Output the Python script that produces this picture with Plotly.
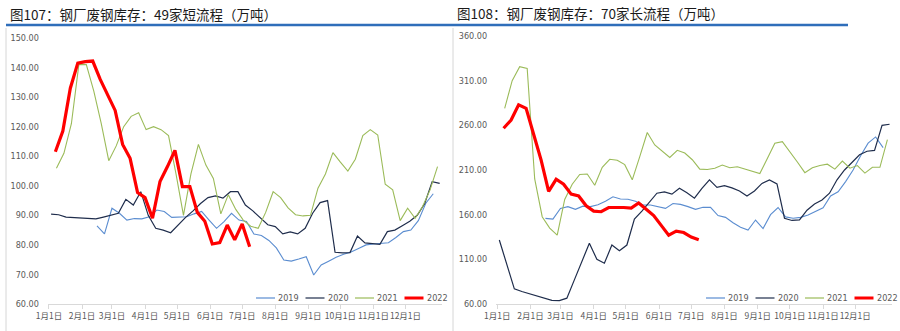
import pandas as pd
import plotly.graph_objects as go

W, H = 900, 331


def px(x):
    return x / W


def py(y):
    return 1 - y / H


# ---------------- data ----------------
month_ticks = [f"2022-{m:02d}-01" for m in range(1, 13)]
month_labels = [f"{m}月1日" for m in range(1, 13)]
years = ["2019", "2020", "2021", "2022"]

# weekly series (first-week date on a common 2022 calendar)
start_2019 = "2022-02-15"
start_2020 = "2022-01-03"
start_2021 = "2022-01-08"
start_2022 = "2022-01-07"

# 图107: 49家短流程 (万吨)
short_2019 = [86.4, 83.7, 92.4, 90.7, 88.4, 88.9, 88.8, 89.5, 91.8, 91.3, 89.3, 89.3,
              89.5, 90.5, 91.3, 88.4, 85.6, 87.9, 90.7, 88.4, 87.9, 83.7, 83.2, 81.5,
              79.0, 74.9, 74.5, 75.2, 76.0, 69.8, 73.2, 74.5, 75.8, 76.8, 77.6, 78.8,
              80.0, 80.3, 80.5, 80.7, 82.5, 84.5, 85.0, 88.2, 94.1, 97.3]
short_2020 = [90.4, 90.2, 89.4, 89.2, 89.2, 88.9, 88.8, 89.4, 90.0, 90.7, 95.4, 93.5,
              98.0, 90.0, 85.6, 85.0, 84.1, 86.7, 89.3, 91.5, 94.0, 96.0, 96.6, 95.8,
              98.0, 98.0, 93.5, 91.5, 89.0, 86.8, 86.2, 83.7, 84.4, 83.7, 85.6, 90.7,
              94.3, 95.0, 77.5, 77.3, 77.4, 83.0, 80.7, 80.5, 80.2, 84.5, 85.0, 86.5,
              88.0, 90.0, 94.0, 101.4, 100.8]
short_2021 = [105.9, 111.0, 121.0, 141.0, 141.0, 132.0, 121.0, 108.5, 113.5, 120.0,
              123.5, 124.7, 119.0, 120.0, 119.0, 117.0, 104.0, 90.0, 104.0, 114.0,
              107.0, 102.5, 90.5, 97.0, 92.0, 88.4, 86.3, 85.6, 91.0, 98.0, 96.0, 92.5,
              90.2, 89.8, 90.0, 99.2, 104.0, 111.2, 108.0, 105.0, 109.0, 117.0, 119.0,
              117.2, 100.5, 98.6, 88.2, 92.4, 89.0, 93.0, 98.6, 106.5]
short_2022 = [111.5, 118.5, 133.0, 141.5, 142.0, 142.2, 136.0, 131.0, 125.5, 114.0,
              109.3, 97.7, 96.0, 89.0, 101.4, 106.5, 112.0, 99.7, 99.7, 91.0, 88.0,
              80.3, 80.8, 86.7, 81.7, 87.1, 79.4]

# 图108: 70家长流程 (万吨)
long_2019 = [155.9, 155.0, 167.0, 169.0, 166.0, 169.5, 169.0, 171.0, 175.0, 180.0,
             177.5, 177.2, 175.0, 170.8, 170.8, 169.0, 167.0, 172.5, 171.5, 169.0,
             166.0, 168.2, 168.2, 159.0, 157.0, 151.0, 146.0, 142.8, 154.0, 144.5,
             160.0, 168.0, 157.5, 156.0, 157.0, 159.6, 163.5, 167.8, 181.0, 185.7,
             197.0, 210.0, 226.0, 240.0, 247.0, 235.0]
long_2020 = [131.6, None, 77.0, 74.0, 71.5, 69.0, 66.5, 64.0, 63.7, 66.5, 87.0, 108.0,
             128.0, 110.0, 105.6, 126.0, 119.7, 126.0, 155.0, 164.0, 174.0, 184.0,
             185.5, 183.0, 189.5, 184.6, 178.5, 189.5, 199.0, 190.6, 192.5, 190.0,
             186.5, 181.0, 186.5, 195.0, 198.8, 194.5, 156.0, 153.5, 154.2, 165.0,
             172.0, 176.5, 184.0, 199.0, 210.0, 219.0, 227.0, 231.0, 232.0, 260.0, 261.2]
long_2021 = [279.0, 310.0, 325.6, 323.8, 200.0, 157.7, 145.0, 137.2, 177.0, 194.0,
             205.0, 205.5, 193.0, 213.0, 222.0, 221.0, 216.0, 199.0, 225.0, 252.0,
             238.0, 231.5, 224.0, 232.0, 229.0, 221.5, 211.0, 210.5, 212.0, 215.6,
             212.5, 213.7, 211.0, 209.0, 206.0, 223.0, 240.0, 241.7, 231.0, 219.0,
             207.0, 212.5, 215.0, 216.5, 211.0, 220.0, 212.0, 215.0, 206.5, 213.0,
             213.0, 244.0]
long_2022 = [256.7, 266.0, 283.0, 279.0, 250.0, 221.0, 186.0, 199.6, 194.0, 183.0,
             181.0, 170.0, 164.0, 163.3, 168.0, 168.3, 168.0, 167.3, 173.0, 166.0,
             159.0, 148.0, 137.0, 141.5, 140.0, 135.0, 132.0]

short_ticks = [60, 70, 80, 90, 100, 110, 120, 130, 140, 150]
long_ticks = [60, 110, 160, 210, 260, 310, 360]

colors = {"2019": "#5B8DD0", "2020": "#1F2D4C", "2021": "#9BBB59", "2022": "#FF0000"}
widths = {"2019": 1.1, "2020": 1.2, "2021": 1.1, "2022": 3.2}
starts = {"2019": start_2019, "2020": start_2020, "2021": start_2021, "2022": start_2022}

CJK = "Noto Sans CJK SC"
NUM = "Liberation Sans Narrow, DejaVu Sans Condensed, Liberation Sans, sans-serif"
TXT = "#595959"

fig = go.Figure()

panels = [
    ("x", "y", {"2019": short_2019, "2020": short_2020, "2021": short_2021, "2022": short_2022}),
    ("x2", "y2", {"2019": long_2019, "2020": long_2020, "2021": long_2021, "2022": long_2022}),
]
for xa, ya, series in panels:
    for yr in years:
        vals = series[yr]
        dates = pd.date_range(starts[yr], periods=len(vals), freq="7D")
        fig.add_trace(go.Scatter(
            x=dates, y=vals, mode="lines", name=yr, connectgaps=True,
            line=dict(color=colors[yr], width=widths[yr]),
            xaxis=xa, yaxis=ya, showlegend=False, hoverinfo="skip"))

xcommon = dict(type="date", range=["2021-12-31", "2023-01-04"], automargin=False,
               tickvals=month_ticks, ticktext=month_labels, tickangle=0,
               showgrid=False, zeroline=False, showline=True, linecolor="#D9D9D9",
               linewidth=1, ticks="outside", ticklen=4, tickcolor="#D9D9D9",
               ticklabelstandoff=0,
               tickfont=dict(family=CJK, size=8.5, color=TXT))
ycommon = dict(showgrid=False, zeroline=False, showline=False, ticks="", automargin=False,
               tickformat=".2f", ticklabelstandoff=8,
               tickfont=dict(family=NUM, size=9, color=TXT))

fig.update_layout(
    width=W, height=H, margin=dict(l=0, r=0, t=0, b=0, autoexpand=False),
    paper_bgcolor="white", plot_bgcolor="white",
    xaxis=dict(xcommon, domain=[px(47.9), px(441.8)], anchor="y"),
    yaxis=dict(ycommon, domain=[py(304), py(38)], range=[60, 150],
               tickvals=short_ticks, anchor="x"),
    xaxis2=dict(xcommon, domain=[px(496.1), px(891.7)], anchor="y2"),
    yaxis2=dict(ycommon, domain=[py(304), py(36)], range=[60, 360],
                tickvals=long_ticks, anchor="x2"),
)

shapes = [
    dict(type="line", xref="paper", yref="paper", x0=px(6), x1=px(848), y0=py(25), y1=py(25),
         line=dict(color="#2F6EBA", width=2.5)),
    dict(type="line", xref="paper", yref="paper", x0=px(6), x1=px(6), y0=py(28), y1=py(331),
         line=dict(color="#D6D6D6", width=1)),
    dict(type="line", xref="paper", yref="paper", x0=px(453), x1=px(453), y0=py(28), y1=py(331),
         line=dict(color="#D6D6D6", width=1)),
]
annotations = [
    dict(text="图107：钢厂废钢库存：49家短流程（万吨）", xref="paper", yref="paper",
         x=px(8), y=py(14), xanchor="left", yanchor="middle", showarrow=False,
         font=dict(family=CJK, size=13.5, color="#1A1A1A")),
    dict(text="图108：钢厂废钢库存：70家长流程（万吨）", xref="paper", yref="paper",
         x=px(455), y=py(13), xanchor="left", yanchor="middle", showarrow=False,
         font=dict(family=CJK, size=13.5, color="#1A1A1A")),
]

# legends (manual, compact like the original)
for x_start in (256, 706):
    for i, yr in enumerate(years):
        x0 = x_start + i * 49.5
        shapes.append(dict(type="line", xref="paper", yref="paper",
                           x0=px(x0), x1=px(x0 + 19), y0=py(298), y1=py(298),
                           line=dict(color=colors[yr], width=1.2 if yr != "2022" else 3)))
        annotations.append(dict(text=yr, xref="paper", yref="paper", x=px(x0 + 20), y=py(298),
                                xanchor="left", yanchor="middle", showarrow=False,
                                font=dict(family=NUM, size=9, color=TXT)))

fig.update_layout(shapes=shapes, annotations=annotations)
fig.write_html("out.html")
